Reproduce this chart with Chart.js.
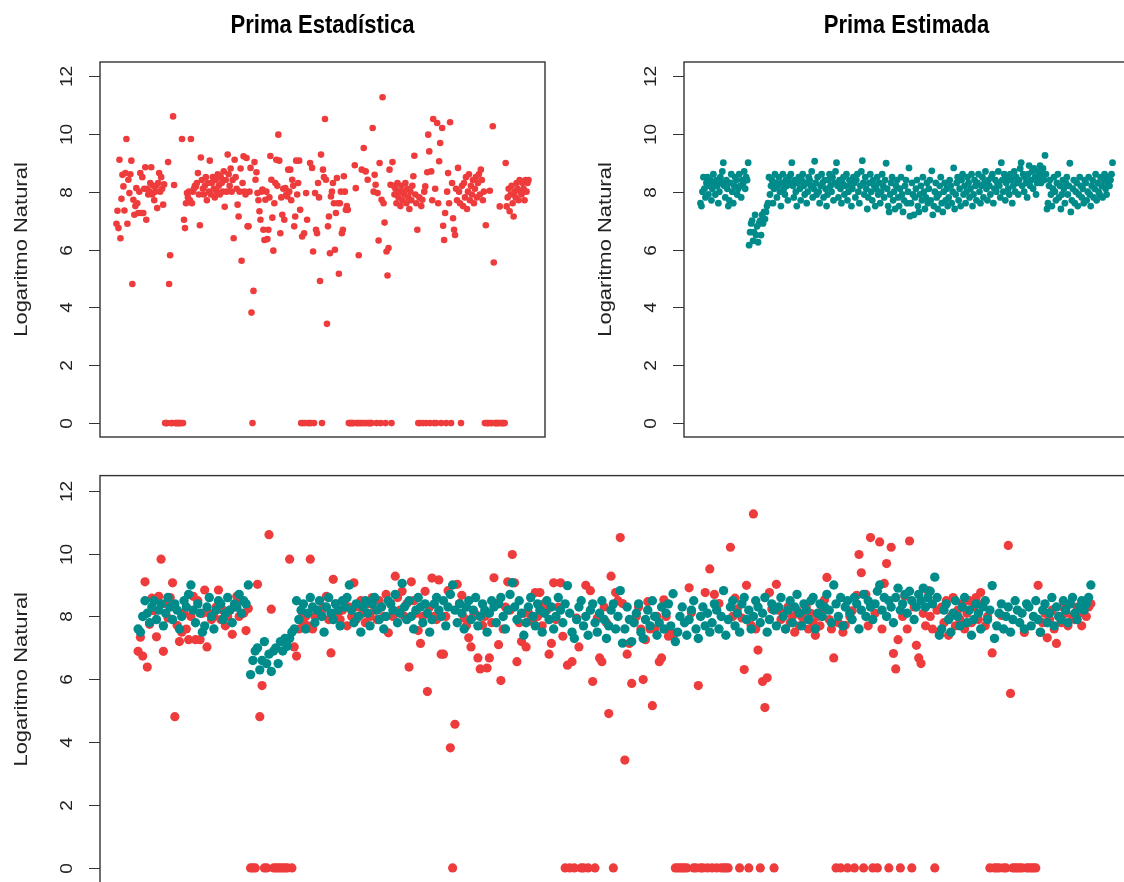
<!DOCTYPE html>
<html>
<head>
<meta charset="utf-8">
<script src="https://cdn.jsdelivr.net/npm/chart.js@4.4.1/dist/chart.umd.min.js"></script>
<style>
  html, body { margin: 0; padding: 0; background: #fff; overflow: hidden; width: 1124px; height: 882px; }
  canvas { position: absolute; }
</style>
</head>
<body>
<canvas id="cObs" width="584" height="460" style="left:0;top:0"></canvas>
<canvas id="cEst" width="584" height="460" style="left:584px;top:0"></canvas>
<canvas id="cBoth" width="1168" height="440" style="left:0;top:460px"></canvas>
<script>
// log of the statistical premium (red) and of the estimated premium (teal), one value per record
var primaEstadistica = [
    6.89, 7.34, 6.74, 9.10, 6.39, 7.75, 8.58, 8.18, 7.35, 8.64,
    9.82, 6.89, 8.41, 7.95, 8.6, 9.07, 4.81, 7.72, 7.20, 7.5,
    8.12, 7.6, 7.26, 8.0, 8.64, 7.26, 8.5, 7.26, 8.1, 8.84,
    7.03, 8.1, 7.9, 8.0, 8.3, 8.84, 7.9, 8.2, 7.7, 8.0,
    8.2, 7.43, 8.3, 8.64, 8.0, 8.5, 8.1, 7.55, 8.25, 0,
    0, 0, 9.02, 4.81, 5.80, 0, 0, 10.6, 8.23, 0,
    0, 0, 0, 0, 0, 0, 9.82, 0, 7.03, 6.74,
    7.6, 7.95, 7.8, 8.0, 7.7, 9.82, 7.6, 8.0, 8.1, 8.2,
    8.18, 8.3, 8.64, 7.9, 6.84, 9.18, 8.4, 8.1, 7.9, 8.2,
    8.5, 7.7, 8.3, 8.0, 9.07, 7.9, 8.3, 8.5, 8.1, 7.8,
    8.4, 8.0, 8.6, 8.2, 7.9, 8.5, 8.3, 8.0, 8.7, 7.48,
    8.4, 8.0, 9.28, 8.6, 8.2, 8.8, 8.0, 8.4, 6.39, 9.10,
    8.5, 8.1, 7.55, 7.14, 8.0, 8.8, 5.61, 8.3, 9.22, 8.0,
    7.9, 9.16, 6.80, 6.80, 8.0, 8.82, 3.82, 0, 4.57, 9.02,
    8.41, 8.67, 7.95, 7.7, 7.32, 7.03, 8.0, 8.07, 6.68, 6.33,
    7.72, 8.0, 6.36, 6.68, 7.8, 9.23, 8.41, 7.1, 5.96, 7.6,
    8.3, 9.10, 8.2, 9.97, 9.07, 6.56, 7.8, 7.2, 8.1, 7.03,
    8.12, 7.9, 7.83, 8.76, 8.0, 8.76, 7.7, 8.41, 8.2, 6.80,
    7.14, 9.07, 7.9, 8.3, 9.07, 7.37, 0, 6.45, 0, 6.56,
    0, 7.95, 7.03, 0, 0, 8.99, 0, 8.82, 5.93, 0,
    7.95, 6.68, 6.56, 8.3, 7.8, 4.91, 9.28, 0, 8.76, 8.5,
    10.51, 8.41, 3.43, 6.80, 7.14, 5.87, 7.83, 8.0, 8.30, 7.6,
    5.99, 7.26, 8.47, 7.6, 5.16, 7.6, 8.0, 6.56, 6.68, 8.53,
    8.0, 7.37, 7.5, 7.37, 0, 0, 0, 0, 0, 0,
    8.91, 8.12, 0, 0, 5.80, 0, 0, 8.76, 0, 9.51,
    0, 8.70, 0, 8.41, 0, 0, 0, 0, 10.2, 8.0,
    8.58, 8.24, 0, 7.95, 6.31, 8.99, 0, 7.72, 11.26, 7.60,
    6.93, 0, 5.93, 5.10, 6.05, 8.76, 8.24, 0, 9.02, 8.2,
    7.9, 8.1, 7.6, 8.3, 7.8, 8.0, 7.5, 8.2, 7.7, 8.0,
    7.9, 8.3, 7.6, 8.1, 7.8, 7.4, 8.0, 7.7, 8.2, 8.53,
    9.24, 7.9, 7.6, 6.68, 0, 7.8, 0, 7.5, 7.72, 0,
    8.0, 8.18, 0, 8.67, 9.97, 9.39, 0, 8.70, 7.7, 10.51,
    0, 8.1, 0, 10.37, 7.6, 9.05, 9.68, 0, 10.2, 6.82,
    6.33, 7.26, 0, 8.0, 8.64, 7.6, 10.4, 0, 8.3, 7.08,
    6.68, 6.5, 8.1, 7.7, 8.82, 8.0, 7.6, 0, 8.2, 7.5,
    8.3, 7.8, 8.5, 7.4, 8.0, 8.6, 7.7, 8.2, 7.9, 8.4,
    7.6, 8.1, 8.5, 7.8, 8.3, 8.6, 7.9, 8.76, 8.4, 7.7,
    8.0, 0, 6.84, 0, 0, 0, 8.03, 0, 0, 10.26,
    5.55, 0, 0, 0, 0, 0, 7.49, 0, 0, 0,
    0, 0, 8.99, 7.49, 7.8, 8.1, 7.32, 7.9, 8.2, 7.6,
    7.14, 8.0, 7.8, 8.3, 8.1, 7.7, 8.4, 8.0, 7.9, 8.3,
    8.1, 7.7, 8.4, 8.0, 8.3, 8.4
];

var primaEstimada = [
    7.6, 7.5, 8.0, 8.5, 8.1, 7.8, 8.3, 8.5, 7.9, 8.2,
    8.4, 7.7, 8.1, 8.6, 8.3, 7.9, 8.4, 8.2, 7.6, 8.0,
    8.5, 8.3, 8.7, 9.0, 8.2, 7.8, 8.4, 8.1, 7.5, 7.7,
    8.3, 8.6, 8.0, 7.6, 8.2, 8.5, 8.4, 7.9, 8.1, 8.6,
    8.2, 7.8, 8.4, 8.3, 8.7, 8.1, 8.5, 8.4, 9.0, 6.15,
    6.6, 6.9, 7.0, 6.3, 6.6, 7.2, 6.5, 6.8, 6.25, 6.9,
    7.0, 6.5, 7.2, 6.9, 7.3, 7.05, 7.3, 7.5, 7.6, 8.5,
    7.9, 8.2, 8.4, 7.6, 8.1, 8.6, 8.3, 7.8, 8.2, 8.5,
    8.0, 7.5, 8.3, 8.6, 8.1, 7.9, 8.4, 8.2, 7.7, 8.5,
    8.3, 8.6, 9.0, 8.2, 7.8, 8.4, 8.0, 7.5, 8.3, 8.5,
    8.1, 7.7, 8.4, 8.6, 8.2, 7.9, 8.3, 7.6, 8.0, 8.5,
    8.4, 8.2, 8.7, 7.8, 8.1, 9.05, 8.3, 7.9, 8.5, 8.0,
    7.6, 8.2, 8.6, 8.3, 7.8, 8.4, 8.1, 7.5, 7.9, 8.4,
    8.6, 8.2, 8.0, 8.5, 7.7, 8.3, 8.7, 9.0, 8.2, 7.8,
    8.4, 8.1, 7.6, 8.3, 8.5, 7.9, 8.2, 8.6, 7.7, 8.0,
    8.4, 8.2, 7.5, 8.1, 8.5, 8.3, 7.8, 8.4, 8.6, 8.0,
    7.6, 8.2, 8.7, 9.07, 8.3, 7.9, 8.5, 8.1, 7.4, 7.8,
    8.3, 8.6, 8.0, 7.7, 8.4, 8.2, 7.5, 8.1, 8.5, 7.9,
    8.3, 7.6, 8.0, 8.6, 8.2, 7.8, 8.4, 8.98, 8.1, 7.5,
    7.3, 7.9, 8.3, 8.5, 7.7, 8.0, 7.4, 8.2, 8.4, 7.8,
    7.5, 8.1, 8.5, 7.9, 7.3, 7.7, 8.2, 8.4, 7.6, 8.0,
    8.82, 7.15, 7.6, 8.3, 7.9, 7.2, 7.8, 8.1, 8.4, 7.5,
    7.3, 7.9, 8.2, 7.7, 8.5, 8.0, 7.4, 7.8, 8.3, 7.6,
    8.1, 8.4, 7.7, 8.72, 7.2, 7.5, 8.0, 8.3, 7.8, 7.4,
    7.9, 8.2, 8.5, 7.6, 7.3, 8.0, 8.3, 7.7, 8.1, 7.5,
    7.8, 8.4, 8.2, 7.6, 8.0, 8.82, 7.4, 7.9, 8.3, 8.5,
    7.7, 8.1, 7.5, 8.4, 8.6, 7.9, 8.2, 7.6, 8.0, 8.5,
    8.3, 7.8, 8.1, 8.6, 7.5, 7.9, 8.4, 8.2, 7.7, 8.3,
    8.6, 8.0, 7.6, 8.2, 8.5, 7.8, 8.3, 8.7, 8.1, 7.7,
    8.4, 8.2, 7.9, 8.5, 8.6, 7.6, 8.1, 8.4, 8.0, 8.3,
    8.7, 8.2, 7.8, 9.0, 8.4, 8.0, 8.6, 7.7, 8.3, 8.5,
    8.1, 7.9, 8.6, 8.4, 7.6, 8.2, 8.7, 8.0, 8.5, 8.3,
    7.9, 8.4, 8.8, 9.0, 8.2, 8.6, 8.0, 8.5, 8.3, 7.8,
    8.6, 8.9, 8.2, 8.4, 8.7, 8.1, 8.8, 8.5, 7.9, 8.3,
    8.7, 8.5, 8.9, 8.3, 8.6, 8.8, 8.4, 9.25, 8.6, 7.4,
    7.6, 8.2, 8.4, 7.9, 7.5, 8.1, 8.5, 8.0, 7.7, 8.3,
    8.6, 7.8, 8.2, 7.4, 7.9, 8.4, 8.1, 7.6, 8.3, 8.5,
    7.9, 8.2, 8.98, 7.3, 7.7, 8.1, 8.4, 7.6, 8.0, 8.3,
    7.5, 7.9, 8.5, 8.2, 7.8, 8.1, 7.6, 8.4, 8.3, 7.7,
    8.0, 8.5, 7.9, 7.5, 8.2, 8.4, 7.8, 8.1, 8.6, 7.7,
    8.3, 8.0, 7.9, 8.5, 8.2, 7.8, 8.4, 8.6, 8.1, 7.9,
    8.3, 8.5, 8.2, 8.4, 8.6, 9.0
];

var yTicks = [0, 2, 4, 6, 8, 10, 12];
var titles = ["Prima Estadística", "Prima Estimada"];
var yTitle = "Logaritmo Natural";

var RED = "#EE3B3B";
var TEAL = "#008B8B";
var FONT = '"Liberation Sans", Arial, Helvetica, sans-serif';

function toPoints(values) {
    return values.map(function (v, i) { return {x: i + 1, y: v}; });
}

// R style axis: box, outside ticks, rotated labels, title above the box
var rAxes = {
    id: 'rAxes',
    afterDraw: function (chart, args, opts) {
        var ctx = chart.ctx;
        var a = chart.chartArea;
        var ys = chart.scales.y;
        ctx.save();
        ctx.strokeStyle = '#333';
        ctx.lineWidth = 1.4;
        ctx.strokeRect(a.left, a.top, a.right - a.left, a.bottom - a.top);

        ctx.lineWidth = 1;
        ctx.fillStyle = '#222';
        yTicks.forEach(function (t) {
            var py = Math.round(ys.getPixelForValue(t)) + 0.5;
            ctx.beginPath();
            ctx.moveTo(a.left - 11, py);
            ctx.lineTo(a.left, py);
            ctx.stroke();
            ctx.save();
            ctx.translate(a.left - 33, py);
            ctx.rotate(-Math.PI / 2);
            ctx.scale(1.12, 1);
            ctx.font = '17px ' + FONT;
            ctx.textAlign = 'center';
            ctx.textBaseline = 'middle';
            ctx.fillText(String(t), 0, 0);
            ctx.restore();
        });

        ctx.save();
        ctx.translate(a.left - 78, (a.top + a.bottom) / 2);
        ctx.rotate(-Math.PI / 2);
        ctx.scale(1.22, 1);
        ctx.font = '18px ' + FONT;
        ctx.textAlign = 'center';
        ctx.textBaseline = 'middle';
        ctx.fillText(yTitle, 0, 0);
        ctx.restore();

        if (opts.title) {
            ctx.save();
            ctx.translate((a.left + a.right) / 2, 33);
            ctx.scale(0.92, 1.05);
            ctx.font = 'bold 24px ' + FONT;
            ctx.fillStyle = '#000';
            ctx.textAlign = 'center';
            ctx.textBaseline = 'alphabetic';
            ctx.fillText(opts.title, 0, 0);
            ctx.restore();
        }
        ctx.restore();
    }
};

function makeChart(id, datasets, padding, title) {
    var n = primaEstadistica.length;
    var ext = 0.04 * (n - 1);
    return new Chart(document.getElementById(id).getContext('2d'), {
        type: 'scatter',
        data: {datasets: datasets},
        options: {
            responsive: false,
            animation: false,
            events: [],
            layout: {padding: padding},
            scales: {
                x: {type: 'linear', min: 1 - ext, max: n + ext, display: false},
                y: {type: 'linear', min: -0.48, max: 12.48, display: false}
            },
            plugins: {
                legend: {display: false},
                tooltip: {enabled: false},
                rAxes: {title: title}
            }
        },
        plugins: [rAxes]
    });
}

function series(values, color, r, order) {
    return {
        data: toPoints(values),
        backgroundColor: color,
        borderWidth: 0,
        pointRadius: r,
        pointHoverRadius: r,
        order: order
    };
}

var chartObs = makeChart('cObs', [series(primaEstadistica, RED, 3.3, 1)],
    {left: 100, top: 62, right: 39, bottom: 23}, titles[0]);

var chartEst = makeChart('cEst', [series(primaEstimada, TEAL, 3.4, 1)],
    {left: 100, top: 62, right: 39, bottom: 23}, titles[1]);

var chartBoth = makeChart('cBoth', [
        series(primaEstadistica, RED, 4.6, 2),
        series(primaEstimada, TEAL, 4.7, 1)
    ],
    {left: 100, top: 15.6, right: 39, bottom: 17}, null);
</script>
</body>
</html>
